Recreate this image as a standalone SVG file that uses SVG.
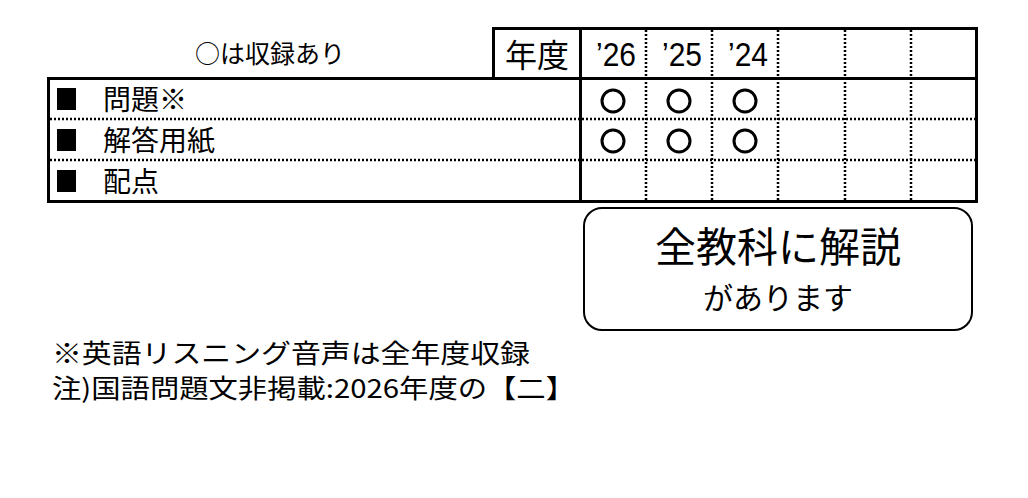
<svg xmlns="http://www.w3.org/2000/svg" width="1028" height="498" viewBox="0 0 1028 498">
<style>
text{font-family:"Noto Sans CJK JP","Liberation Sans",sans-serif;fill:#000;font-weight:400}
.solid{fill:none;stroke:#000;stroke-width:3}
.dot{stroke:#000;stroke-width:2.5;stroke-dasharray:2 2;fill:none}
.c{fill:none;stroke:#000;stroke-width:3}
.yr{font-family:"Liberation Sans",sans-serif;font-size:33px}
.lbl{font-size:28px}
</style>
<rect width="1028" height="498" fill="#fff"/>
<g id="legend"><text x="270" y="63" font-size="25" text-anchor="middle">○は収録あり</text></g>
<g id="table">
<line class="dot" x1="50" y1="119" x2="975" y2="119"/>
<line class="dot" x1="50" y1="160" x2="975" y2="160"/>
<line class="dot" x1="646" y1="30" x2="646" y2="200"/>
<line class="dot" x1="712" y1="30" x2="712" y2="200"/>
<line class="dot" x1="778" y1="30" x2="778" y2="200"/>
<line class="dot" x1="845" y1="30" x2="845" y2="200"/>
<line class="dot" x1="911" y1="30" x2="911" y2="200"/>
<rect class="solid" x="48.5" y="78.5" width="928" height="123"/>
<rect class="solid" x="493.5" y="28.5" width="483" height="50"/>
<line class="solid" x1="580.5" y1="28" x2="580.5" y2="202"/>
<text x="537" y="67" font-size="32" text-anchor="middle">年度</text>
<text class="yr" x="596" y="66" textLength="40" lengthAdjust="spacingAndGlyphs">’26</text>
<text class="yr" x="662" y="66" textLength="40" lengthAdjust="spacingAndGlyphs">’25</text>
<text class="yr" x="728" y="66" textLength="40" lengthAdjust="spacingAndGlyphs">’24</text>
<rect x="57" y="88" width="19" height="22"/>
<rect x="57" y="129" width="19" height="22"/>
<rect x="57" y="170" width="19" height="22"/>
<text class="lbl" x="103" y="110">問題※</text>
<text class="lbl" x="103" y="151">解答用紙</text>
<text class="lbl" x="103" y="192">配点</text>
<circle class="c" cx="613" cy="101" r="11"/>
<circle class="c" cx="679" cy="101" r="11"/>
<circle class="c" cx="745" cy="101" r="11"/>
<circle class="c" cx="613" cy="141" r="11"/>
<circle class="c" cx="679" cy="141" r="11"/>
<circle class="c" cx="745" cy="141" r="11"/>
</g>
<g id="callout">
<rect x="584" y="208" width="388" height="122" rx="18" fill="none" stroke="#000" stroke-width="2"/>
<text x="778" y="262" font-size="41" text-anchor="middle" font-weight="500">全教科に解説</text>
<text x="778" y="309" font-size="30" text-anchor="middle" font-weight="500">があります</text>
</g>
<g id="notes">
<text x="52" y="363" font-size="26" textLength="478" lengthAdjust="spacingAndGlyphs">※英語リスニング音声は全年度収録</text>
<text x="52" y="398" font-size="26" textLength="523" lengthAdjust="spacingAndGlyphs">注)国語問題文非掲載:2026年度の【二】</text>
</g>
</svg>
